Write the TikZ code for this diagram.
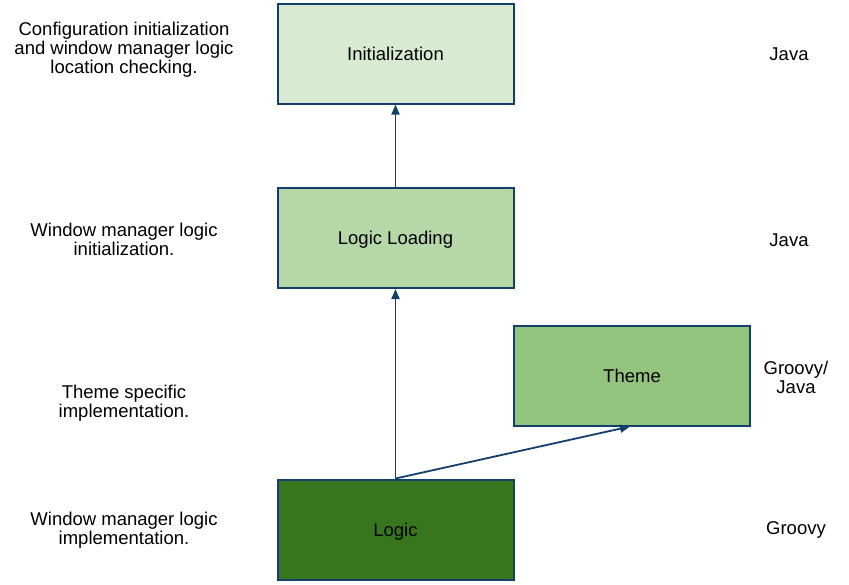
\documentclass[tikz,border=0pt]{standalone}
\usepackage{fontspec}
\setmainfont{Liberation Sans}
\usetikzlibrary{arrows.meta}
\definecolor{bordc}{HTML}{12406B}
\definecolor{finit}{HTML}{D9EAD3}
\definecolor{fload}{HTML}{B6D7A8}
\definecolor{ftheme}{HTML}{93C47D}
\definecolor{flogic}{HTML}{38761D}
\begin{document}
\begin{tikzpicture}[x=1pt,y=-1pt,
  box/.style={draw=bordc,line width=2pt,minimum width=236pt,minimum height=100pt,inner sep=0pt,text height=14pt,text depth=0.6pt,font=\fontsize{18.5}{19}\selectfont},
  lbl/.style={align=center,inner sep=0pt,font=\fontsize{18.5}{19}\selectfont},
  conn/.style={draw=bordc,line width=1.8pt,-{Triangle[length=10pt,width=8pt]}}]
\useasboundingbox (0,0) rectangle (849,584);
\node[box,fill=finit] (init) at (395.5,53.5) {Initialization};
\node[box,fill=fload] (load) at (395.5,238) {Logic Loading};
\node[box,fill=ftheme] (theme) at (632,375.5) {Theme};
\node[box,fill=flogic] (logic) at (395.5,529.5) {Logic};
\coordinate (themein) at (630,426.5);
\draw[conn] (logic.north) -- (load.south);
\draw[conn] (load.north) -- (init.south);
\draw[conn] (logic.north) -- (themein);
\node[lbl] (t1) at (124,50) {Configuration initialization\\and window manager logic\\location checking.};
\node[lbl] (t2) at (124,239) {Window manager logic\\initialization.};
\node[lbl] (t3) at (124,403) {Theme specific\\implementation.};
\node[lbl] (t4) at (124,530) {Window manager logic\\implementation.};
\node[lbl] (r1) at (789,54) {Java};
\node[lbl] (r2) at (789,240) {Java};
\node[lbl] (r3) at (796,377) {Groovy/\\Java};
\node[lbl] (r4) at (796,530) {Groovy};
\end{tikzpicture}
\end{document}
